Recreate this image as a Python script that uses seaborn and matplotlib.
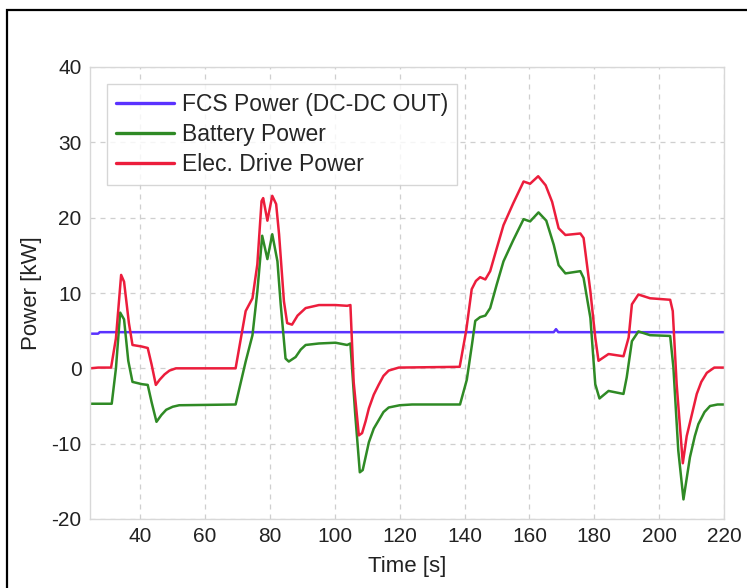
import matplotlib
matplotlib.use("Agg")
import matplotlib.pyplot as plt
import matplotlib.patches as mpatches
import pandas as pd
import seaborn as sns

# Fuel-cell system output power (DC-DC out), kW
fcs_time = [24.5, 27.0, 27.5, 167.5, 168.2, 168.9, 220.0]
fcs_power = [4.6, 4.6, 4.8, 4.8, 5.2, 4.8, 4.8]

# Battery power, kW
bat_time = [24.5, 31.2, 32.5, 33.8, 35.0, 36.3, 37.6, 40.5, 42.3, 43.5, 45.0,
            46.5, 48.0, 50.0, 52.0, 69.4, 72.5, 74.6, 76.1, 77.6, 79.2, 80.7,
            82.3, 83.3, 84.8, 85.8, 87.9, 89.5, 91.0, 95.1, 100.2, 103.8,
            104.8, 106.3, 107.7, 108.6, 110.5, 112.0, 113.5, 115.0, 116.6,
            120.0, 123.8, 138.6, 140.7, 142.3, 143.3, 144.8, 146.4, 147.9,
            149.9, 152.0, 155.0, 158.2, 160.2, 162.8, 165.2, 167.5, 169.0,
            171.1, 175.7, 176.7, 178.8, 180.3, 181.6, 184.4, 189.0, 190.0,
            191.6, 193.6, 197.2, 203.4, 204.4, 205.9, 207.5, 209.5, 211.0,
            212.1, 214.0, 215.7, 218.0, 220.0]
bat_power = [-4.7, -4.7, 0.0, 7.4, 6.5, 1.0, -1.8, -2.1, -2.2, -4.5, -7.1,
             -6.2, -5.5, -5.1, -4.9, -4.8, 0.9, 4.4, 10.2, 17.6, 14.5, 17.8,
             14.2, 8.5, 1.3, 0.9, 1.5, 2.5, 3.1, 3.3, 3.4, 3.1,
             3.3, -6.2, -13.8, -13.5, -9.8, -8.0, -6.9, -5.8, -5.2,
             -4.9, -4.8, -4.8, -1.5, 3.2, 6.3, 6.8, 7.0, 8.0,
             11.1, 14.2, 17.0, 19.8, 19.5, 20.7, 19.6, 16.4, 13.7,
             12.6, 12.9, 12.0, 6.7, -2.1, -4.0, -3.0, -3.4, -1.2,
             3.6, 4.9, 4.4, 4.3, 0.1, -10.9, -17.4, -11.8, -9.0,
             -7.4, -5.8, -5.0, -4.8, -4.8]

# Electric drive power, kW
drv_time = [24.5, 27.0, 31.0, 32.5, 34.1, 35.0, 36.5, 37.6, 40.4, 42.3, 43.5,
            44.8, 46.0, 47.5, 49.0, 51.0, 69.4, 72.5, 74.6, 76.1, 77.4, 77.9,
            79.2, 80.7, 81.9, 82.8, 84.3, 85.3, 86.8, 88.5, 91.0, 95.1, 100.2,
            103.8, 104.8, 105.8, 107.4, 108.4, 109.5, 110.5, 112.0, 113.5,
            115.0, 116.6, 119.7, 138.5, 140.5, 142.2, 143.5, 144.8, 146.4,
            147.9, 149.9, 152.0, 155.0, 158.2, 160.2, 162.7, 165.0, 167.0,
            169.0, 171.1, 175.7, 176.7, 178.8, 180.3, 181.3, 184.4, 189.0,
            190.6, 191.6, 193.6, 197.2, 203.4, 204.2, 205.4, 207.3, 208.5,
            209.5, 211.6, 213.0, 214.7, 217.0, 220.0]
drv_power = [0.0, 0.1, 0.1, 4.0, 12.4, 11.5, 6.0, 3.1, 2.9, 2.7, 0.5,
             -2.2, -1.5, -0.8, -0.3, 0.0, 0.0, 7.6, 9.3, 13.8, 22.2, 22.6,
             19.6, 22.9, 21.8, 17.8, 8.9, 6.0, 5.8, 7.0, 8.0, 8.4, 8.4,
             8.3, 8.4, -1.8, -8.9, -8.6, -7.0, -5.3, -3.5, -2.2,
             -1.0, -0.3, 0.1, 0.2, 5.0, 10.5, 11.6, 12.1, 11.8,
             12.9, 15.9, 19.0, 21.9, 24.8, 24.5, 25.5, 24.3, 22.1,
             18.6, 17.7, 17.9, 17.3, 10.2, 4.1, 1.0, 1.9, 1.6,
             4.1, 8.5, 9.8, 9.3, 9.1, 7.6, -2.1, -12.6, -9.0,
             -7.2, -3.4, -1.8, -0.6, 0.1, 0.1]

series_names = ["FCS Power (DC-DC OUT)", "Battery Power", "Elec. Drive Power"]
series_colors = ["#5a32ff", "#2f8a25", "#ec1d3c"]
x_ticks = [40, 60, 80, 100, 120, 140, 160, 180, 200, 220]
y_ticks = [-20, -10, 0, 10, 20, 30, 40]

frames = []
for name, t, p in zip(series_names,
                      [fcs_time, bat_time, drv_time],
                      [fcs_power, bat_power, drv_power]):
    frames.append(pd.DataFrame({"Time": t, "Power": p, "Series": name}))
data = pd.concat(frames, ignore_index=True)

sns.set_theme(style="white")
plt.rcParams["font.family"] = ["Liberation Sans", "DejaVu Sans"]
plt.rcParams["axes.unicode_minus"] = False

fig = plt.figure(figsize=(7.47, 5.88), dpi=100)
ax = fig.add_axes([90 / 747, 1 - 519 / 588, (724 - 90) / 747, (519 - 67) / 588])

sns.lineplot(data=data, x="Time", y="Power", hue="Series",
             hue_order=series_names, palette=series_colors,
             estimator=None, sort=False, linewidth=1.8, ax=ax)

ax.set_xlim(24.5, 220)
ax.set_ylim(-20, 40)
ax.set_xticks(x_ticks)
ax.set_yticks(y_ticks)
ax.tick_params(axis="both", length=0, labelsize=15, colors="#222222", pad=6)
ax.grid(True, color="#cfcfcf", linestyle=(0, (4, 4)), linewidth=0.9)
for s in ax.spines.values():
    s.set_color("#d8d8d8")
    s.set_linewidth(1.0)

ax.set_xlabel("Time [s]", fontsize=16, color="#222222", labelpad=7)
ax.set_ylabel("Power [kW]", fontsize=16, color="#222222", labelpad=7)

leg = ax.legend(loc="upper left", bbox_to_anchor=(0.027, 0.962),
                borderaxespad=0, fontsize=16.5, frameon=True, fancybox=False,
                handlelength=2.5, handletextpad=0.35, labelspacing=0.3,
                borderpad=0.4)
leg.get_frame().set_edgecolor("#cccccc")
leg.get_frame().set_linewidth(1.0)
for line in leg.get_lines():
    line.set_linewidth(2.4)

# outer frame around the figure
fig.patches.append(mpatches.Rectangle((7 / 747, -0.05), 1.2, 1 - 10 / 588 + 0.05,
                                      transform=fig.transFigure, fill=False,
                                      edgecolor="black", linewidth=1.6))

fig.savefig("out.png", dpi=100)
